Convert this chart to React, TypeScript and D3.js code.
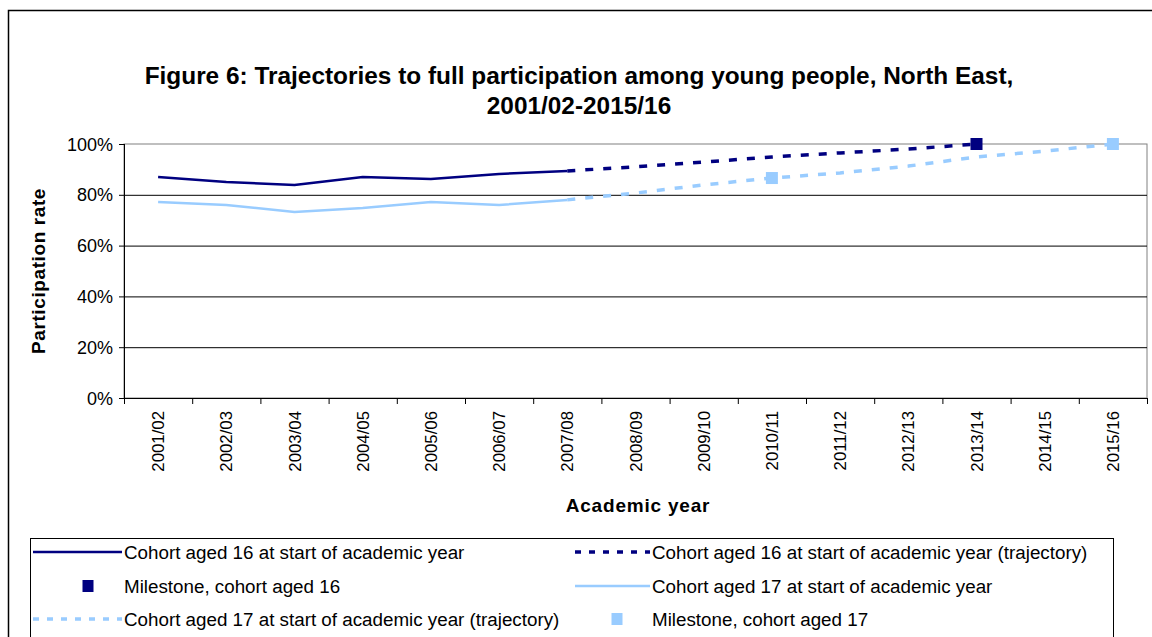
import React from "react";
import * as d3 from "d3";

const years = ["2001/02","2002/03","2003/04","2004/05","2005/06","2006/07","2007/08","2008/09","2009/10","2010/11","2011/12","2012/13","2013/14","2014/15","2015/16"];
const cohort16: (number|null)[] = [87, 85, 83.9, 87, 86.2, 88.2, 89.4, null, null, null, null, null, null, null, null];
const traj16: (number|null)[] = [null, null, null, null, null, null, 89.4, 91, 92.9, 94.9, 96.5, 98, 100, null, null];
const milestone16: (number|null)[] = [null, null, null, null, null, null, null, null, null, null, null, null, 100, null, null];
const cohort17: (number|null)[] = [77.2, 76, 73.2, 74.8, 77.2, 76, 78, null, null, null, null, null, null, null, null];
const traj17: (number|null)[] = [null, null, null, null, null, null, 78, 80.7, 83.9, 86.6, 88.6, 91.3, 94.9, 97.2, 100];
const milestone17: (number|null)[] = [null, null, null, null, null, null, null, null, null, 86.6, null, null, null, null, 100];
const yTicks = [0, 20, 40, 60, 80, 100];

const DARK = "#000080";
const LIGHT = "#99CCFF";
const FONT = "Arial, 'Liberation Sans', sans-serif";
const DASH = "8,10";

export default function App() {
  const W = 1152, H = 637;
  const x = d3.scaleBand<string>().domain(years).range([124, 1147]);
  const cx = (i: number) => (x(years[i]) as number) + x.bandwidth() / 2;
  const y = d3.scaleLinear().domain([0, 100]).range([398, 144]);
  const line = d3.line<number|null>()
    .defined(d => d !== null)
    .x((_, i) => cx(i))
    .y(d => y(d as number));

  const series = [
    { data: cohort16, color: DARK, dash: null },
    { data: cohort17, color: LIGHT, dash: null },
    { data: traj16, color: DARK, dash: DASH },
    { data: traj17, color: LIGHT, dash: DASH },
  ];

  const legend = [
    { label: "Cohort aged 16 at start of academic year", type: "line", color: DARK, col: 0, row: 0 },
    { label: "Cohort aged 16 at start of academic year (trajectory)", type: "dash", color: DARK, col: 1, row: 0 },
    { label: "Milestone, cohort aged 16", type: "marker", color: DARK, col: 0, row: 1 },
    { label: "Cohort aged 17 at start of academic year", type: "line", color: LIGHT, col: 1, row: 1 },
    { label: "Cohort aged 17 at start of academic year (trajectory)", type: "dash", color: LIGHT, col: 0, row: 2 },
    { label: "Milestone, cohort aged 17", type: "marker", color: LIGHT, col: 1, row: 2 },
  ];
  const cols = [
    { ls: 33, le: 122, tx: 124, mk: 88 },
    { ls: 575, le: 650, tx: 652, mk: 617 },
  ];
  const rowY = [552, 586, 619];

  return (
    <svg width={W} height={H} style={{ position: "absolute", left: 0, top: 0, display: "block" }} fontFamily={FONT}>
      <rect x={0} y={0} width={W} height={H} fill="white" />
      <path d={`M8.5,${H} V10.5 H${W}`} fill="none" stroke="#000" strokeWidth={1.5} />
      <text x={579} y={84} textAnchor="middle" fontSize={24.4} fontWeight="bold">Figure 6: Trajectories to full participation among young people, North East,</text>
      <text x={579} y={114} textAnchor="middle" fontSize={24.4} fontWeight="bold">2001/02-2015/16</text>

      {/* plot area border */}
      <rect x={124} y={144} width={1023} height={254} fill="none" stroke="#808080" strokeWidth={1} />
      {yTicks.filter(t => t > 0 && t < 100).map(t => (
        <line key={t} x1={124} x2={1147} y1={y(t) + 0.5} y2={y(t) + 0.5} stroke="#000" strokeWidth={1} />
      ))}
      {/* axes */}
      <line x1={124.5} x2={124.5} y1={144} y2={398} stroke="#000" />
      <line x1={124} x2={1147} y1={398.5} y2={398.5} stroke="#000" />
      {yTicks.map(t => (
        <g key={t}>
          <line x1={119} x2={124} y1={y(t) + 0.5} y2={y(t) + 0.5} stroke="#000" />
          <text x={113} y={y(t) + 6.5} textAnchor="end" fontSize={18}>{t}%</text>
        </g>
      ))}
      {years.map((yr, i) => {
        const bx = (x(yr) as number);
        return (
          <g key={yr}>
            <line x1={bx + 0.5} x2={bx + 0.5} y1={398} y2={404} stroke="#000" />
            <text transform={`translate(${cx(i) + 6},${411}) rotate(-90)`} textAnchor="end" fontSize={16.8}>{yr}</text>
          </g>
        );
      })}
      <line x1={1147.5} x2={1147.5} y1={398} y2={404} stroke="#000" />

      <text transform="translate(45,271) rotate(-90)" textAnchor="middle" fontSize={19} fontWeight="bold" letterSpacing={0.6}>Participation rate</text>
      <text x={638} y={512} textAnchor="middle" fontSize={19} fontWeight="bold" letterSpacing={0.8}>Academic year</text>

      {series.map((s, k) => (
        <path key={k} d={line(s.data) || ""} fill="none" stroke={s.color} strokeWidth={s.dash ? 3.5 : 2.5} strokeDasharray={s.dash || undefined} />
      ))}
      {milestone16.map((v, i) => v === null ? null : (
        <rect key={"m16" + i} x={cx(i) - 6} y={y(v) - 6} width={12} height={12} fill={DARK} />
      ))}
      {milestone17.map((v, i) => v === null ? null : (
        <rect key={"m17" + i} x={cx(i) - 6} y={y(v) - 6} width={12} height={12} fill={LIGHT} />
      ))}

      {/* legend */}
      <rect x={30.5} y={538.5} width={1083} height={110} fill="white" stroke="#000" strokeWidth={1} />
      {legend.map((l, k) => {
        const c = cols[l.col];
        const ly = rowY[l.row];
        return (
          <g key={k}>
            {l.type === "line" && <line x1={c.ls} x2={c.le} y1={ly} y2={ly} stroke={l.color} strokeWidth={2.5} />}
            {l.type === "dash" && <line x1={c.ls} x2={c.le} y1={ly} y2={ly} stroke={l.color} strokeWidth={3.5} strokeDasharray="6,8" />}
            {l.type === "marker" && <rect x={c.mk - 5.5} y={ly - 6} width={11} height={12} fill={l.color} />}
            <text x={c.tx} y={ly + 6.5} fontSize={18.8}>{l.label}</text>
          </g>
        );
      })}
    </svg>
  );
}
